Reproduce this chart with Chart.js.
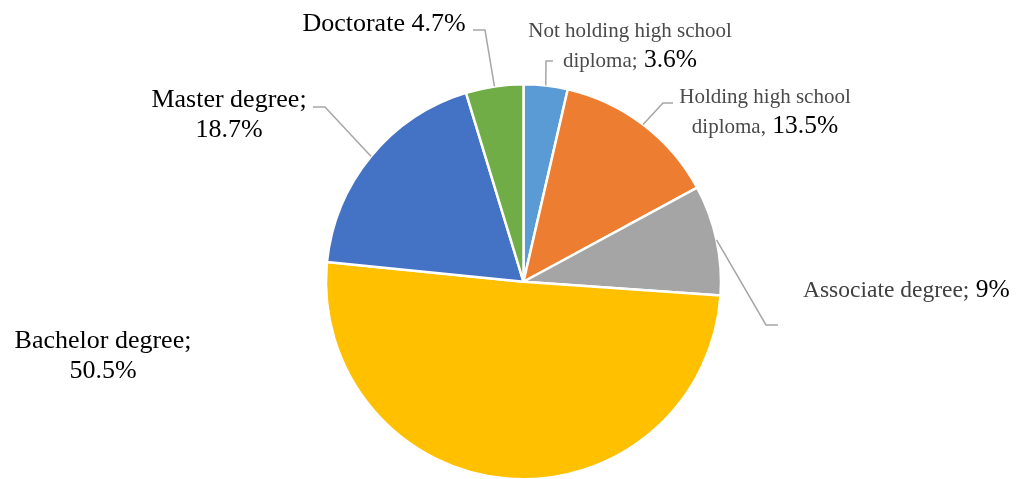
<!DOCTYPE html>
<html>
<head>
<meta charset="utf-8">
<script src="https://cdn.jsdelivr.net/npm/chart.js@4.4.0/dist/chart.umd.min.js"></script>
<style>
    html, body { margin: 0; padding: 0; background: #fff; overflow: hidden; }
    #wrap { width: 1018px; height: 483px; position: relative; }
</style>
</head>
<body>
<div id="wrap"><canvas id="chart"></canvas></div>
<script>
// data
const categories = ['Not holding high school diploma', 'Holding high school diploma', 'Associate degree',
    'Bachelor degree', 'Master degree', 'Doctorate'];
const shares = [3.6, 13.5, 9, 50.5, 18.7, 4.7];
const separators = [';', ',', ';', ';', ';', ''];
const sliceColors = ['#5B9BD5', '#ED7D31', '#A5A5A5', '#FFC000', '#4472C4', '#70AD47'];

// label placement (layout only)
const smallGray = { size: 21, color: '#4a4a4a' };
const midGray = { size: 23.5, color: '#404040' };
const bigBlack = { size: 26, color: '#000000' };
const valBlack = { size: 25.5, color: '#000000' };

const labelLayout = [
    { x: 630, y: 37, align: 'center', wrap: 4, cat: smallGray, val: valBlack, leader: [[546, 61], [553, 61]] },
    { x: 765, y: 103, align: 'center', wrap: 3, cat: smallGray, val: valBlack, leader: [[663, 103], [673, 103]] },
    { x: 803, y: 297, align: 'left', wrap: 0, cat: midGray, val: valBlack, leader: [[766, 325], [778, 325]] },
    { x: 103, y: 348, align: 'center', wrap: 2, cat: bigBlack, val: bigBlack, leader: null },
    { x: 229, y: 107, align: 'center', wrap: 2, cat: bigBlack, val: bigBlack, leader: [[325, 107], [313, 107]] },
    { x: 384, y: 31, align: 'center', wrap: 0, cat: bigBlack, val: bigBlack, leader: [[485, 30], [473, 30]] }
];
const lineHeight = 30;
const fontFamily = '"Liberation Serif", "Times New Roman", serif';

function labelTokens(i) {
    const words = categories[i].split(' ');
    words[words.length - 1] += separators[i];
    const tokens = words.map(w => ({ text: w, style: labelLayout[i].cat }));
    tokens.push({ text: shares[i] + '%', style: labelLayout[i].val });
    return tokens;
}

const pieLabels = {
    id: 'pieLabels',
    afterDatasetsDraw(chart) {
        const ctx = chart.ctx;
        const arcs = chart.getDatasetMeta(0).data;
        ctx.save();

        // leader lines
        ctx.strokeStyle = '#A6A6A6';
        ctx.lineWidth = 1.5;
        arcs.forEach((arc, i) => {
            const lay = labelLayout[i];
            if (!lay.leader) return;
            const mid = (arc.startAngle + arc.endAngle) / 2;
            const sx = arc.x + Math.cos(mid) * arc.outerRadius;
            const sy = arc.y + Math.sin(mid) * arc.outerRadius;
            ctx.beginPath();
            ctx.moveTo(sx, sy);
            ctx.lineTo(lay.leader[0][0], lay.leader[0][1]);
            ctx.lineTo(lay.leader[1][0], lay.leader[1][1]);
            ctx.stroke();
        });

        // label text
        ctx.textBaseline = 'alphabetic';
        ctx.textAlign = 'left';
        arcs.forEach((arc, i) => {
            const lay = labelLayout[i];
            const tokens = labelTokens(i);
            const lines = lay.wrap ? [tokens.slice(0, lay.wrap), tokens.slice(lay.wrap)] : [tokens];
            lines.forEach((line, li) => {
                const parts = [];
                let width = 0;
                line.forEach((t, ti) => {
                    ctx.font = t.style.size + 'px ' + fontFamily;
                    const txt = (ti > 0 ? ' ' : '') + t.text;
                    const w = ctx.measureText(txt).width;
                    parts.push({ txt, w, style: t.style });
                    width += w;
                });
                let x = lay.align === 'center' ? lay.x - width / 2 : lay.x;
                const y = lay.y + li * lineHeight;
                parts.forEach(p => {
                    ctx.font = p.style.size + 'px ' + fontFamily;
                    ctx.fillStyle = p.style.color;
                    ctx.fillText(p.txt, x, y);
                    x += p.w;
                });
            });
        });
        ctx.restore();
    }
};

new Chart(document.getElementById('chart'), {
    type: 'pie',
    data: {
        labels: categories,
        datasets: [{
            data: shares,
            backgroundColor: sliceColors,
            borderColor: '#ffffff',
            borderWidth: 2.5,
            hoverOffset: 0
        }]
    },
    options: {
        responsive: true,
        maintainAspectRatio: false,
        animation: false,
        layout: { padding: { left: 29, right: 0, top: 83, bottom: 2.5 } },
        plugins: {
            legend: { display: false },
            tooltip: { enabled: false }
        }
    },
    plugins: [pieLabels]
});
</script>
</body>
</html>
